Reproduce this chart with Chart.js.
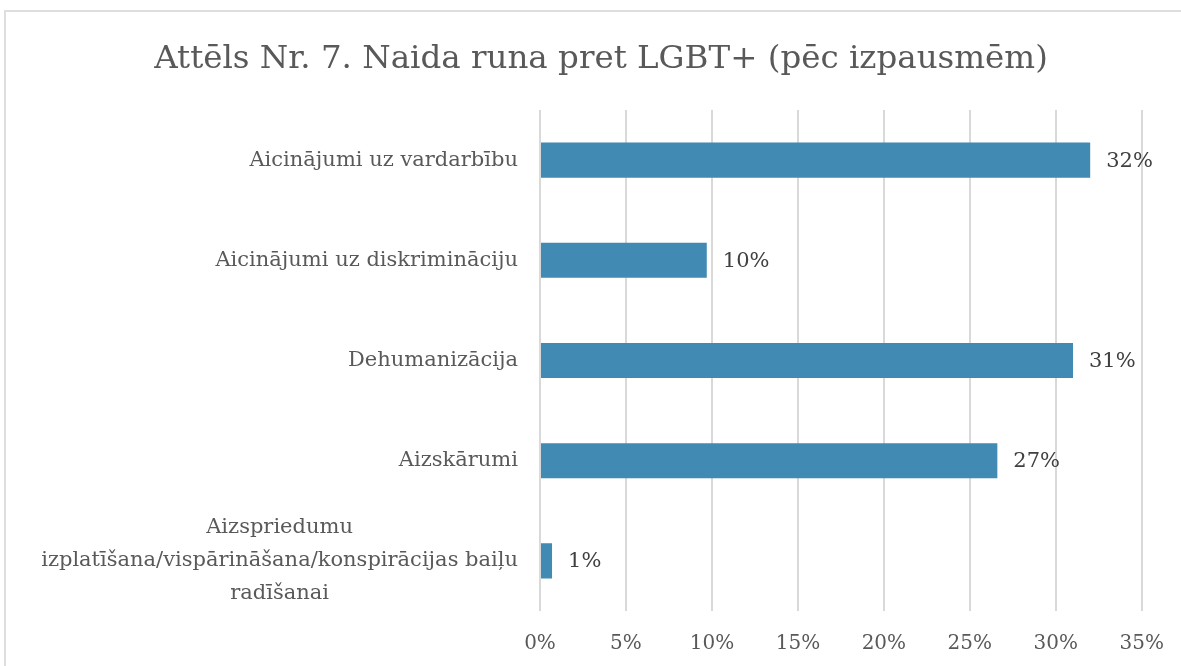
<!DOCTYPE html>
<html>
<head>
<meta charset="utf-8">
<script src="https://cdn.jsdelivr.net/npm/chart.js@4"></script>
<style>
  html, body { margin: 0; padding: 0; background: #fff; overflow: hidden; }
  #frame { position: absolute; left: 4px; top: 10px; width: 1200px; height: 700px; border: 2px solid #dedede; }
  #wrap { position: absolute; left: 0; top: 0; width: 1185px; height: 688px; }
</style>
</head>
<body>
<div id="frame"></div>
<div id="wrap"><canvas id="chart"></canvas></div>
<script>
// Daten
const titel = 'Attēls Nr. 7. Naida runa pret LGBT+ (pēc izpausmēm)';
const kategorien = [
  ['Aicinājumi uz vardarbību'],
  ['Aicinājumi uz diskrimināciju'],
  ['Dehumanizācija'],
  ['Aizskārumi'],
  ['Aizspriedumu', 'izplatīšana/vispārināšana/konspirācijas baiļu', 'radīšanai']
];
const werte = [32.0, 9.7, 31.0, 26.6, 0.7];
const achseMax = 35;
const achseSchritt = 5;

const schrift = '"DejaVu Serif", serif';
const grau = '#595959';

// eigene Beschriftungen: Titel, Kategorien links (mehrzeilig zentriert) und Werte neben den Balken
const beschriftung = {
  id: 'beschriftung',
  afterDatasetsDraw(chart) {
    const ctx = chart.ctx;
    const y = chart.scales.y;
    const meta = chart.getDatasetMeta(0);
    ctx.save();
    // Titel
    ctx.font = '32.5px ' + schrift;
    ctx.fillStyle = grau;
    ctx.textAlign = 'center';
    ctx.textBaseline = 'middle';
    ctx.fillText(titel, 601, 60);

    ctx.font = '21px ' + schrift;
    const rechts = chart.chartArea.left - 22;
    const zeilenHoehe = 33;
    kategorien.forEach(function(zeilen, i) {
      const mitte = y.getPixelForValue(i);
      let breit = 0;
      zeilen.forEach(z => { breit = Math.max(breit, ctx.measureText(z).width); });
      const cx = rechts - breit / 2;
      zeilen.forEach(function(z, j) {
        ctx.fillText(z, cx, mitte + (j - (zeilen.length - 1) / 2) * zeilenHoehe);
      });
    });
    // Werte
    ctx.fillStyle = '#404040';
    ctx.textAlign = 'left';
    meta.data.forEach(function(bar, i) {
      ctx.fillText(Math.round(werte[i]) + '%', bar.x + 16, bar.y + 1);
    });
    ctx.restore();
  }
};

const ctx = document.getElementById('chart').getContext('2d');
new Chart(ctx, {
  type: 'bar',
  data: {
    labels: kategorien.map(k => k.join(' ')),
    datasets: [{
      data: werte,
      backgroundColor: '#418AB3',
      borderWidth: 0,
      barPercentage: 0.35,
      categoryPercentage: 1.0
    }]
  },
  options: {
    indexAxis: 'y',
    responsive: true,
    maintainAspectRatio: false,
    animation: false,
    layout: { padding: { left: 540, right: 31, top: 110, bottom: 11 } },
    plugins: {
      legend: { display: false },
      tooltip: { enabled: false },
      title: { display: false }
    },
    scales: {
      x: {
        min: 0,
        max: achseMax,
        border: { display: false },
        grid: { color: '#d9d9d9', lineWidth: 2, drawTicks: false },
        ticks: {
          stepSize: achseSchritt,
          padding: 21,
          color: grau,
          font: { family: schrift, size: 20 },
          callback: v => v + '%'
        }
      },
      y: {
        display: false
      }
    }
  },
  plugins: [beschriftung]
});
</script>
</body>
</html>
